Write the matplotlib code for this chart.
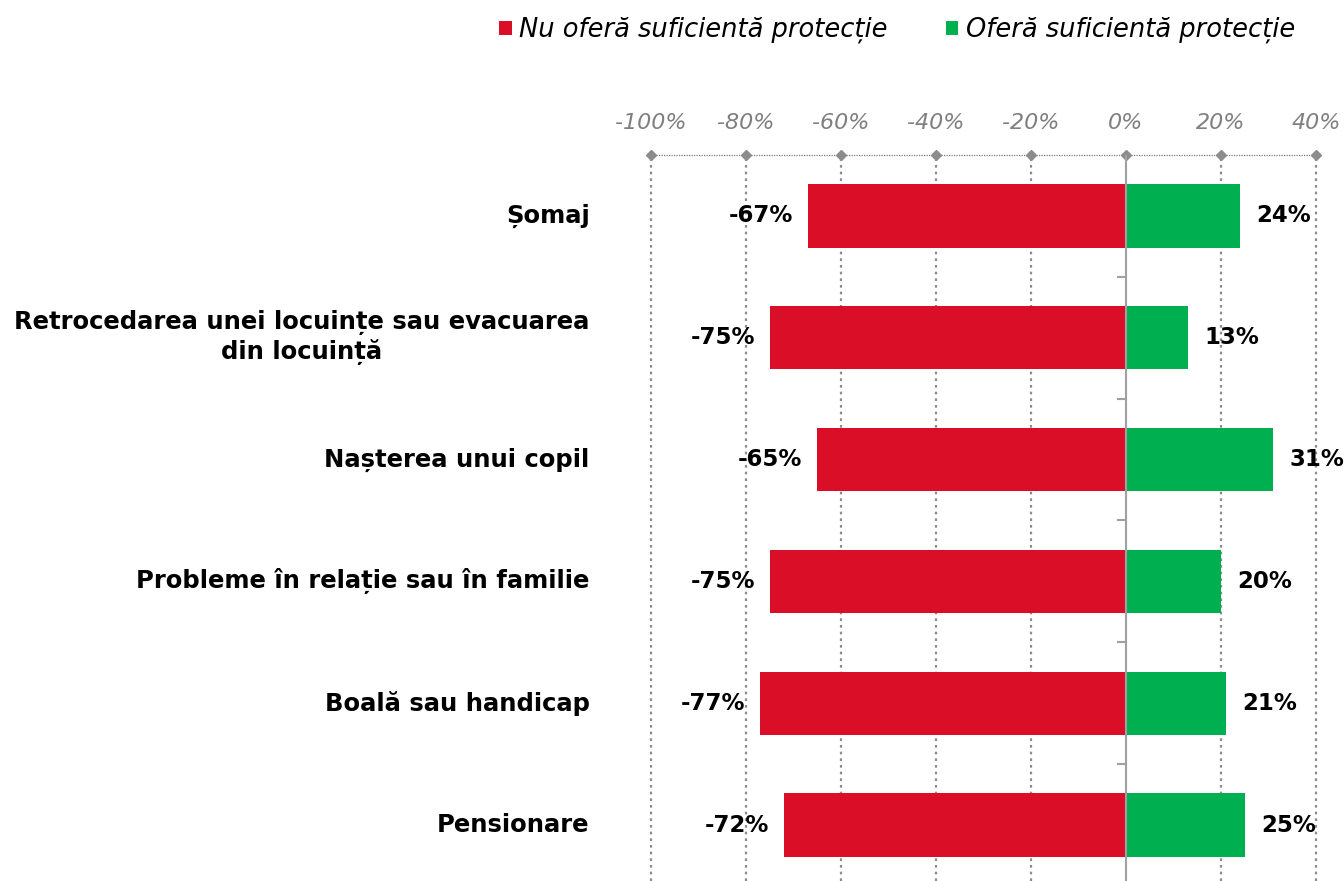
import matplotlib
matplotlib.use("Agg")
import matplotlib.pyplot as plt
from matplotlib.ticker import FixedLocator
import numpy as np

categories = ["Șomaj",
              "Retrocedarea unei locuințe sau evacuarea\ndin locuință",
              "Nașterea unui copil",
              "Probleme în relație sau în familie",
              "Boală sau handicap",
              "Pensionare"]
neg_values = [-67, -75, -65, -75, -77, -72]
pos_values = [24, 13, 31, 20, 21, 25]
series_names = ["Nu oferă suficientă protecție", "Oferă suficientă protecție"]
tick_values = [-100, -80, -60, -40, -20, 0, 20, 40]
tick_labels = ["-100%", "-80%", "-60%", "-40%", "-20%", "0%", "20%", "40%"]

RED = "#DA0E26"
GREEN = "#00AF50"
GRAY = "#8C8C8C"

fig = plt.figure(figsize=(13.44, 8.81), dpi=100)
ax = fig.add_axes([651/1344, 0, (1316-651)/1344, 1-155/881])

y = np.arange(len(categories))
h = 0.52
ax.barh(y, neg_values, height=h, color=RED, zorder=3, label=series_names[0])
ax.barh(y, pos_values, height=h, color=GREEN, zorder=3, label=series_names[1])

ax.set_xlim(-100, 40)
ax.set_ylim(5.459, -0.5)

# grid
for t in tick_values:
    if t != 0:
        ax.axvline(t, color=GRAY, ls=(0, (1.2, 1.8)), lw=1.6, zorder=1, clip_on=False)
ax.axhline(-0.5, color="#7A7A7A", ls=(0, (1, 1)), lw=0.9, zorder=2, clip_on=False)
ax.plot(tick_values, [-0.5]*len(tick_values), ls="none", marker="D", ms=5.5,
        color=GRAY, clip_on=False, zorder=4)
ax.axvline(0, color="#A0A0A0", lw=1.5, zorder=4)
for b in np.arange(0.5, len(categories), 1.0):
    ax.plot([-1.7, 0], [b, b], color="#A0A0A0", lw=1.5, zorder=4, clip_on=False)

for s in ax.spines.values():
    s.set_visible(False)

ax.xaxis.set_major_locator(FixedLocator(tick_values))
ax.set_xticklabels(tick_labels)
ax.xaxis.tick_top()
ax.tick_params(axis="x", length=0, pad=16, labelsize=16, labelcolor="#7F7F7F")
for lab in ax.get_xticklabels():
    lab.set_fontstyle("italic")

ax.set_yticks([])
for yi, c in zip(y, categories):
    ax.text(-112.9, yi, c, ha="right", va="center", multialignment="center",
            fontsize=17.5, fontweight="bold", color="black", clip_on=False)

for yi, v in zip(y, neg_values):
    ax.text(v - 3.1, yi, f"{v}%", ha="right", va="center", fontsize=16.5,
            fontweight="bold", color="black", zorder=5)
for yi, v in zip(y, pos_values):
    ax.text(v + 3.4, yi, f"{v}%", ha="left", va="center", fontsize=16.5,
            fontweight="bold", color="black", zorder=5)

leg = fig.legend(handles=ax.patches[:1] + ax.patches[len(categories):len(categories)+1],
                 labels=series_names, loc="upper right", bbox_to_anchor=(0.981, 1.007),
                 ncol=2, frameon=False, handlelength=0.5, handleheight=0.5,
                 handletextpad=0.3, columnspacing=2.25,
                 prop={"style": "italic", "size": 18.5})

fig.savefig("out.png", dpi=100)
